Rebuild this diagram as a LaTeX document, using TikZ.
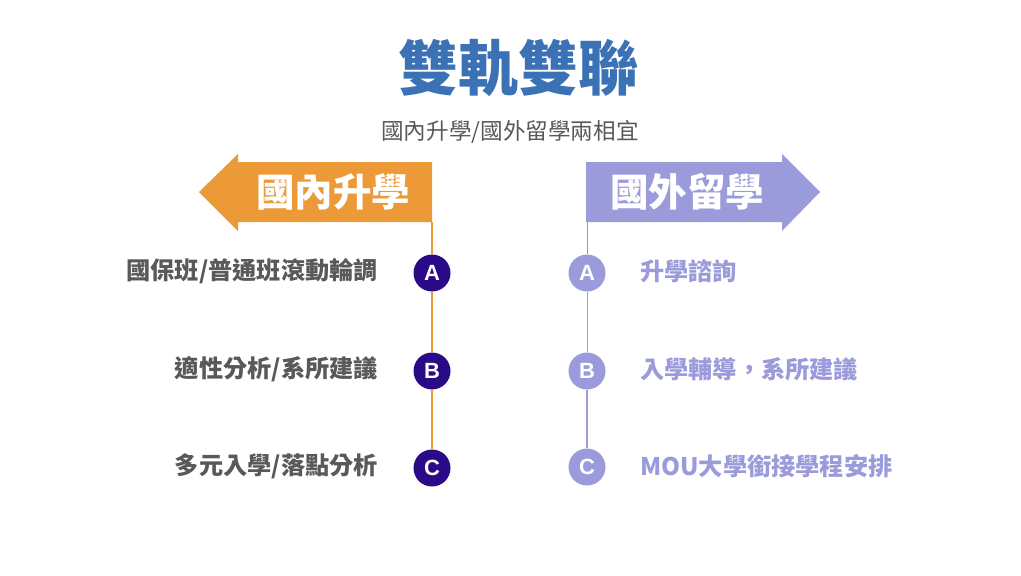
\documentclass[tikz,border=0pt]{standalone}
\usepackage{fontspec}
\setmainfont{Liberation Sans}
\newfontfamily\cjk{Noto Sans CJK TC}
\newfontfamily\latin{Liberation Sans}
\definecolor{titleblue}{HTML}{3A72B5}
\definecolor{orangeA}{HTML}{EC9A38}
\definecolor{lav}{HTML}{9B9BDB}
\definecolor{dpurple}{HTML}{2B0A87}
\definecolor{txtgray}{HTML}{595959}
\begin{document}
\begin{tikzpicture}[x=1pt,y=-1pt,
  dot/.style={circle,minimum size=37pt,inner sep=0pt,font=\latin\fontsize{22}{22}\selectfont,text=white},
  ldot/.style={dot,fill=dpurple},
  rdot/.style={dot,fill=lav},
  lbl/.style={font=\cjk\bfseries\fontsize{24.2}{24.2}\selectfont,inner sep=0pt},
  ltxt/.style={lbl,text=txtgray,anchor=east},
  rtxt/.style={lbl,text=lav,anchor=west},
  head/.style={font=\cjk\bfseries\fontsize{38.5}{38.5}\selectfont,text=white,inner sep=0pt}]
\useasboundingbox (0,0) rectangle (1021,576);
\fill[white] (0,0) rectangle (1021,576);
\node[font=\cjk\bfseries\fontsize{60}{60}\selectfont,text=titleblue,inner sep=0pt] (title) at (518,68) {雙軌雙聯};
\node[font=\cjk\fontsize{22.6}{22.6}\selectfont,text=txtgray,inner sep=0pt] (sub) at (510,132) {國內升學/國外留學兩相宜};
% left arrow
\fill[orangeA] (432,162) -- (238,162) -- (238,154) -- (199,192) -- (238,231) -- (238,222) -- (432,222) -- cycle;
\node[head] (lhead) at (333,192) {國內升學};
% right arrow
\fill[lav] (586,162) -- (782,162) -- (782,154) -- (820,192) -- (782,231) -- (782,222) -- (586,222) -- cycle;
\node[head] (rhead) at (687,192) {國外留學};
\coordinate (ltop) at (432,222);
\coordinate (rtop) at (587,222);
\node[ldot] (la) at (432,273) {\bfseries A};
\node[ldot] (lb) at (432,371) {\bfseries B};
\node[ldot] (lc) at (432,468) {\bfseries C};
\node[rdot] (ra) at (587,273) {\bfseries A};
\node[rdot] (rb) at (587,371) {\bfseries B};
\node[rdot] (rc) at (587,467) {\bfseries C};
\draw[orangeA,line width=1.5pt] (ltop) -- (la) (la) -- (lb) (lb) -- (lc);
\draw[lav!80!gray,line width=0.8pt] (rtop) -- (ra);
\draw[lav,line width=1pt] (ra) -- (rb);
\draw[lav,line width=2pt] (rb) -- (rc);
\node[ltxt] (t1) at (378,271) {國保班/普通班滾動輪調};
\node[ltxt] (t2) at (378,369) {適性分析/系所建議};
\node[ltxt] (t3) at (378,466) {多元入學/落點分析};
\node[rtxt] (u1) at (640,271) {升學諮詢};
\node[rtxt] (u2) at (640,369) {入學輔導，系所建議};
\node[rtxt] (u3) at (640,466) {MOU大學銜接學程安排};
\end{tikzpicture}
\end{document}
